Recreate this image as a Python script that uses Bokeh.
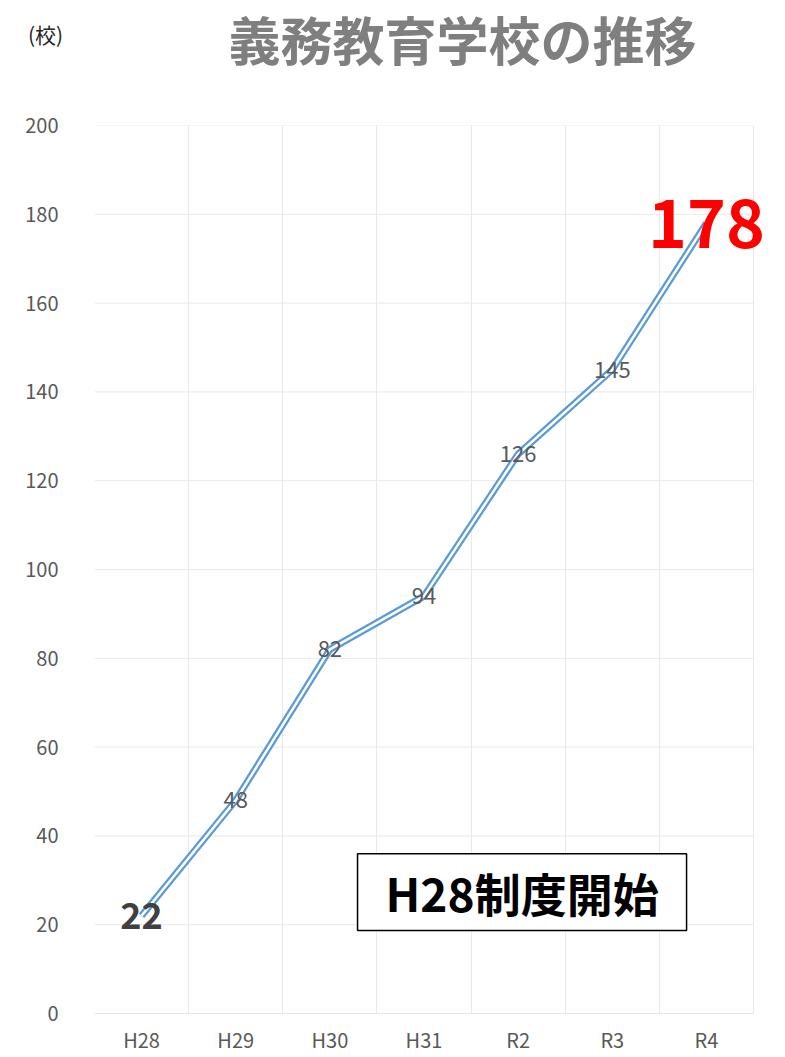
from bokeh.plotting import figure
from bokeh.layouts import column, row
from bokeh.models import Range1d, FixedTicker, Label, ColumnDataSource, Grid, BoxAnnotation
from bokeh.core.properties import value
from bokeh.embed import file_html
from bokeh.resources import INLINE

categories = ["H28", "H29", "H30", "H31", "R2", "R3", "R4"]
schools = [22, 48, 82, 94, 126, 145, 178]
y_ticks = [0, 20, 40, 60, 80, 100, 120, 140, 160, 180, 200]
title_text = "義務教育学校の推移"
unit_text = "(校)"
note_text = "H28制度開始"

FONT = "Noto Sans CJK JP"
GRID = "#e9e9e9"


def blank(width, height, x0, x1):
    f = figure(width=width, height=height, output_backend="svg", toolbar_location=None,
               x_range=Range1d(x0, x1), y_range=Range1d(height, 0),
               x_axis_location=None, y_axis_location=None,
               min_border_left=0, min_border_right=0, min_border_top=0, min_border_bottom=0)
    f.grid.visible = False
    f.outline_line_color = None
    return f


# ---------- header row: unit label (page x 0..94) and title (page x 94..785) ----------
unit_fig = blank(94, 100, 0, 94)
unit_fig.text(x=[45], y=[33], text=[unit_text], text_align="center", text_baseline="middle",
              text_font=value(FONT), text_font_size="21px", text_color="#262626")
title_fig = blank(691, 100, 94, 785)
title_fig.text(x=[462], y=[38], text=[title_text], text_align="center", text_baseline="middle",
               text_font=value(FONT), text_font_size="52px", text_font_style="bold", text_color="#7f7f7f")
header = row(unit_fig, title_fig, spacing=0)

# ---------- main chart ----------
n = len(categories)
xs = [i + 0.5 for i in range(n)]
x_extra = 32 / (659 / n)

p = figure(width=785, height=957, output_backend="svg", toolbar_location=None,
           x_range=Range1d(0, n + x_extra), y_range=Range1d(0, 200),
           min_border_left=94, min_border_top=25, min_border_right=0, min_border_bottom=44)
p.outline_line_color = None

p.xaxis.ticker = FixedTicker(ticks=xs)
p.xaxis.major_label_overrides = {x: c for x, c in zip(xs, categories)}
p.yaxis.ticker = FixedTicker(ticks=y_ticks)
for ax in (p.xaxis[0], p.yaxis[0]):
    ax.major_tick_line_color = None
    ax.minor_tick_line_color = None
    ax.axis_line_color = None
    ax.major_label_text_font = FONT
    ax.major_label_text_font_size = "20px"
    ax.major_label_text_color = "#595959"
p.xaxis.major_label_standoff = 5
p.yaxis.major_label_standoff = 30

# grid: horizontal lines only across the categories, vertical at category boundaries
p.grid.visible = False
p.segment(x0=[0] * len(y_ticks), x1=[n] * len(y_ticks), y0=y_ticks, y1=y_ticks,
          line_color=GRID, line_width=1)
p.segment(x0=[0], x1=[n], y0=[0], y1=[0], line_color="#d9d9d9", line_width=1)
vgrid = Grid(dimension=0, ticker=FixedTicker(ticks=list(range(n + 1))), grid_line_color=GRID)
p.add_layout(vgrid)

# double line
src = ColumnDataSource(dict(x=xs, y=schools))
p.line("x", "y", source=src, line_color="#5b9bd5", line_width=7)
p.line("x", "y", source=src, line_color="white", line_width=2.5)

# data labels
mid = ColumnDataSource(dict(x=xs[1:-1], y=schools[1:-1], label=[str(v) for v in schools[1:-1]]))
p.text("x", "y", text="label", source=mid, text_align="center", text_baseline="middle",
       text_font=value(FONT), text_font_size="22px", text_color="#595959")
first = ColumnDataSource(dict(x=[xs[0]], y=[schools[0]], label=[str(schools[0])]))
p.text("x", "y", text="label", source=first, text_align="center", text_baseline="middle",
       text_font=value(FONT), text_font_size="36px", text_font_style="bold", text_color="#404040")
last = ColumnDataSource(dict(x=[xs[-1]], y=[schools[-1]], label=[str(schools[-1])]))
p.text("x", "y", text="label", source=last, text_align="center", text_baseline="middle",
       text_font=value(FONT), text_font_size="66px", text_font_style="bold", text_color="#ff0000")

# note box
p.add_layout(BoxAnnotation(left=2.794, right=6.289, bottom=18.7, top=36.0,
                           fill_color="white", fill_alpha=1.0,
                           line_color="black", line_alpha=1.0, line_width=1.5))
p.add_layout(Label(x=4.542, y=27.4, text=note_text, text_align="center", text_baseline="middle",
                   text_font=FONT, text_font_size="46px", text_font_style="bold", text_color="black"))

open("out.html", "w").write(file_html(column(header, p, spacing=0), INLINE))
